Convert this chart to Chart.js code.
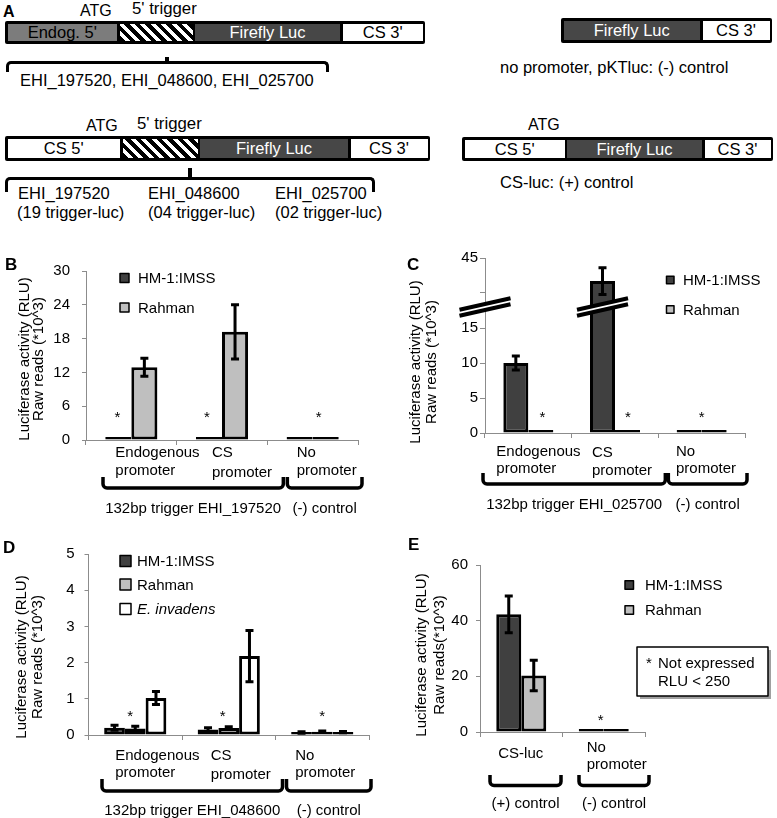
<!DOCTYPE html>
<html>
<head>
<meta charset="utf-8">
<script src="https://cdn.jsdelivr.net/npm/chart.js@4.4.1/dist/chart.umd.min.js"></script>
<style>
  html, body { margin: 0; padding: 0; background: #fff; }
  #page { position: relative; width: 777px; height: 818px; overflow: hidden;
          font-family: "Liberation Sans", Arial, sans-serif; color: #000; }
  .t { position: absolute; white-space: nowrap; line-height: 1; }
  .construct { position: absolute; background: #000; border-radius: 2px; }
  .seg { position: absolute; top: 3px; bottom: 3px; display: flex; align-items: center;
         justify-content: center; font-size: 16.5px; line-height: 1; white-space: nowrap; }
  .hatch { background: repeating-linear-gradient(45deg, #000 0 3.9px, #fff 3.9px 7.4px); }
  .brace { position: absolute; border: 3.5px solid #000; border-bottom: none;
           border-radius: 5px 5px 0 0; box-sizing: border-box; }
  .tick { position: absolute; background: #000; width: 3.5px; }
  .panel { position: absolute; }
</style>
</head>
<body>
<div id="page">
  <div class="panel" style="left:0;top:250px"><canvas id="chartB" width="390" height="270"></canvas></div>
  <div class="panel" style="left:390px;top:245px"><canvas id="chartC" width="387" height="270"></canvas></div>
  <div class="panel" style="left:0;top:535px"><canvas id="chartD" width="390" height="283"></canvas></div>
  <div class="panel" style="left:390px;top:525px"><canvas id="chartE" width="387" height="293"></canvas></div>
</div>
<script>
// ---- data (RLU x10^3) ----
const categoriesB = [['Endogenous', 'promoter'], ['CS', 'promoter'], ['No', 'promoter']];
const hm1B = [0.2, 0.3, 0.15];
const hm1ErrB = [0, 0, 0];
const rahmanB = [12.9, 19.2, 0.15];
const rahmanErrB = [1.6, 4.8, 0];
const groupsB = ['132bp trigger EHI_197520', '(-) control'];

const categoriesC = [['Endogenous', 'promoter'], ['CS', 'promoter'], ['No', 'promoter']];
const hm1C = [10.0, 41.7, 0.1];
const hm1ErrC = [1.0, 1.9, 0];
const rahmanC = [0.05, 0.3, 0.1];
const rahmanErrC = [0, 0, 0];
const groupsC = ['132bp trigger EHI_025700', '(-) control'];

const categoriesD = [['Endogenous', 'promoter'], ['CS', 'promoter'], ['No', 'promoter']];
const hm1D = [0.20, 0.15, 0.07];
const hm1ErrD = [0.07, 0.05, 0.02];
const rahmanD = [0.18, 0.19, 0.09];
const rahmanErrD = [0.06, 0.04, 0.02];
const invadensD = [1.02, 2.18, 0.08];
const invadensErrD = [0.18, 0.71, 0.02];
const groupsD = ['132bp trigger EHI_048600', '(-) control'];

const categoriesE = [['CS-luc'], ['No', 'promoter']];
const hm1E = [42.3, 0.2];
const hm1ErrE = [6.6, 0];
const rahmanE = [20.3, 0.2];
const rahmanErrE = [5.5, 0];
const groupsE = ['(+) control', '(-) control'];

const yTitle = ['Luciferase activity (RLU)', 'Raw reads (*10^3)'];
const yTitleE = ['Luciferase activity (RLU)', 'Raw reads(*10^3)'];
const noteLines = ['Not expressed', 'RLU < 250'];

// ---- styles ----
const FONT = '"Liberation Sans", Arial, sans-serif';
const AXIS = '#8c8c8c';
const HM_COLOR = '#404040';
const RAHMAN_COLOR = '#bfbfbf';
const INV_COLOR = '#ffffff';

// ---- panel A : constructs drawn as plain html ----
const page = document.getElementById('page');

function addText(txt, x, base, size, extra) {
  const d = document.createElement('div');
  d.className = 't';
  d.textContent = txt;
  d.style.left = x + 'px';
  d.style.top = (base - 0.8465 * size) + 'px';
  d.style.fontSize = size + 'px';
  if (extra) Object.assign(d.style, extra);
  page.appendChild(d);
}

function addConstruct(x0, y0, x1, y1, segs) {
  const c = document.createElement('div');
  c.className = 'construct';
  Object.assign(c.style, {left: x0 + 'px', top: y0 + 'px', width: (x1 - x0) + 'px', height: (y1 - y0) + 'px'});
  segs.forEach(s => {
    const d = document.createElement('div');
    d.className = 'seg' + (s.hatch ? ' hatch' : '');
    d.style.left = (s.from - x0) + 'px';
    d.style.width = (s.to - s.from) + 'px';
    if (s.fill) d.style.background = s.fill;
    if (s.color) d.style.color = s.color;
    if (s.text) d.textContent = s.text;
    c.appendChild(d);
  });
  page.appendChild(c);
}

function addBrace(x0, x1, yLine, yEnd, xt, yt) {
  const b = document.createElement('div');
  b.className = 'brace';
  Object.assign(b.style, {left: (x0 - 1.75) + 'px', top: (yLine - 1.75) + 'px',
    width: (x1 - x0 + 3.5) + 'px', height: (yEnd - yLine + 1.75) + 'px'});
  page.appendChild(b);
  const t = document.createElement('div');
  t.className = 'tick';
  Object.assign(t.style, {left: (xt - 1.75) + 'px', top: yt + 'px', height: (yLine - yt) + 'px'});
  page.appendChild(t);
}

const LUC = '#474747';
addText('A', 3, 17.5, 16, {fontWeight: 'bold'});
addText('ATG', 80, 16.7, 16);
addText("5' trigger", 132, 15.5, 16.8);
addConstruct(5, 21, 425, 44, [
  {from: 7.5, to: 117, fill: '#7c7c7c', text: "Endog. 5'"},
  {from: 120, to: 193, hatch: true},
  {from: 195, to: 340, fill: LUC, color: '#fff', text: 'Firefly Luc'},
  {from: 343, to: 422.5, fill: '#fff', text: "CS 3'"}
]);
addBrace(8, 327, 62.5, 72, 167, 57);
addText('EHI_197520, EHI_048600, EHI_025700', 20, 85.7, 16.5);

addConstruct(561, 18, 772, 43, [
  {from: 563.5, to: 700, fill: LUC, color: '#fff', text: 'Firefly Luc'},
  {from: 702.5, to: 769.5, fill: '#fff', text: "CS 3'"}
]);
addText('no promoter, pKTluc: (-) control', 500, 73, 16.5);

addText('ATG', 86, 131.7, 16);
addText("5' trigger", 137, 130, 16.8);
addConstruct(5, 136, 430, 161, [
  {from: 7.5, to: 120, fill: '#fff', text: "CS 5'"},
  {from: 122.5, to: 198, hatch: true},
  {from: 200, to: 348, fill: LUC, color: '#fff', text: 'Firefly Luc'},
  {from: 350.5, to: 427.5, fill: '#fff', text: "CS 3'"}
]);
addBrace(7, 373, 179, 192, 190, 168);
addText('EHI_197520', 18, 199.3, 16.5);
addText('(19 trigger-luc)', 17, 218, 16.5);
addText('EHI_048600', 148, 199.3, 16.5);
addText('(04 trigger-luc)', 148, 218, 16.5);
addText('EHI_025700', 275, 199.3, 16.5);
addText('(02 trigger-luc)', 275, 218, 16.5);

addText('ATG', 528, 130.7, 16);
addConstruct(462, 137, 773, 161, [
  {from: 464.5, to: 565, fill: '#fff', text: "CS 5'"},
  {from: 567, to: 702, fill: LUC, color: '#fff', text: 'Firefly Luc'},
  {from: 704.5, to: 770.5, fill: '#fff', text: "CS 3'"}
]);
addText('CS-luc: (+) control', 500, 188.3, 16.5);

// ---- bar charts ----
function drawBreak(ctx, x, y) {
  const dx = 25.5, dy = 5.8, g = 3;
  ctx.save();
  ctx.fillStyle = '#fff';
  ctx.beginPath();
  ctx.moveTo(x - dx, y + dy - g);
  ctx.lineTo(x + dx, y - dy - g);
  ctx.lineTo(x + dx, y - dy + g);
  ctx.lineTo(x - dx, y + dy + g);
  ctx.closePath();
  ctx.fill();
  ctx.strokeStyle = '#000';
  ctx.lineWidth = 4;
  [-g, g].forEach(o => {
    ctx.beginPath();
    ctx.moveTo(x - dx, y + dy + o);
    ctx.lineTo(x + dx, y - dy + o);
    ctx.stroke();
  });
  ctx.restore();
}

function decor(p) {
  const map = p.map || (v => v);
  const px = x => x - p.at[0];
  const py = y => y - p.at[1];
  return {
    id: 'decor',
    afterDatasetsDraw(chart) {
      const ctx = chart.ctx, ys = chart.scales.y;
      ctx.save();
      ctx.strokeStyle = '#000';
      ctx.lineWidth = 3;
      chart.data.datasets.forEach((ds, di) => {
        chart.getDatasetMeta(di).data.forEach((bar, i) => {
          const e = ds.errors[i];
          if (!e) return;
          const v = ds.raw[i];
          const yt = ys.getPixelForValue(map(v + e));
          const yb = ys.getPixelForValue(map(Math.max(v - e, 0)));
          ctx.beginPath();
          ctx.moveTo(bar.x, yt); ctx.lineTo(bar.x, yb);
          ctx.moveTo(bar.x - 4, yt); ctx.lineTo(bar.x + 4, yt);
          ctx.moveTo(bar.x - 4, yb); ctx.lineTo(bar.x + 4, yb);
          ctx.stroke();
        });
      });
      ctx.restore();
    },
    afterDraw(chart) {
      const ctx = chart.ctx, xs = chart.scales.x, ys = chart.scales.y;
      const area = chart.chartArea, axisY = area.bottom;
      const n = chart.data.labels.length, cw = xs.width / n;
      const cx = i => xs.getPixelForValue(i);
      ctx.save();
      ctx.fillStyle = '#000';
      ctx.strokeStyle = '#000';
      ctx.textBaseline = 'alphabetic';

      if (p.breakAt !== undefined) {
        const yb = ys.getPixelForValue(p.breakAt);
        drawBreak(ctx, area.left, yb);
        p.breakBars.forEach(([d, i]) => drawBreak(ctx, chart.getDatasetMeta(d).data[i].x, yb));
      }

      // panel letter
      ctx.font = 'bold 17px ' + FONT;
      ctx.textAlign = 'left';
      ctx.fillText(p.letter.text, px(p.letter.x), py(p.letter.y));

      // y title
      ctx.font = '15px ' + FONT;
      ctx.textAlign = 'center';
      ctx.textBaseline = 'middle';
      p.title.lines.forEach((line, k) => {
        ctx.save();
        ctx.translate(px(p.title.x) + k * p.title.pitch, py(p.title.y));
        ctx.rotate(-Math.PI / 2);
        ctx.fillText(line, 0, 0);
        ctx.restore();
      });
      ctx.textBaseline = 'alphabetic';

      // category labels under the axis
      ctx.textAlign = 'left';
      chart.data.labels.forEach((lines, i) => {
        lines.forEach((line, k) => ctx.fillText(line, cx(i) + p.catDx[i], axisY + p.catDy[i][k]));
      });

      // asterisks
      ctx.textAlign = 'center';
      p.stars.forEach(([i, dx]) => ctx.fillText('*', cx(i) + dx, axisY + p.starDy));

      // braces and group labels
      ctx.lineWidth = 3.5;
      ctx.lineJoin = 'round';
      p.braces.forEach(([a, b, l, r], k) => {
        const x0 = cx(a) - cw / 2 + l, x1 = cx(b) + cw / 2 + r;
        const yl = axisY + p.braceLine, yt = axisY + p.braceTop, rad = 4;
        ctx.beginPath();
        ctx.moveTo(x0, yt);
        ctx.lineTo(x0, yl - rad);
        ctx.arcTo(x0, yl, x0 + rad, yl, rad);
        ctx.lineTo(x1 - rad, yl);
        ctx.arcTo(x1, yl, x1, yl - rad, rad);
        ctx.lineTo(x1, yt);
        ctx.stroke();
        ctx.fillText(p.groups[k], (x0 + x1) / 2, axisY + p.groupDy);
      });

      // legend
      const lg = p.legend;
      ctx.textAlign = 'left';
      ctx.lineWidth = 1.5;
      chart.data.datasets.forEach((ds, k) => {
        const yc = py(lg.ys[k]);
        ctx.fillStyle = ds.backgroundColor;
        ctx.fillRect(px(lg.x), yc - lg.size / 2, lg.size, lg.size);
        ctx.strokeRect(px(lg.x), yc - lg.size / 2, lg.size, lg.size);
        ctx.fillStyle = '#000';
        ctx.font = (ds.italic ? 'italic ' : '') + '15px ' + FONT;
        ctx.fillText(ds.label, px(lg.textX), yc + 5);
      });

      // note box
      if (p.note) {
        const [x0, y0, x1, y1] = p.note.box;
        ctx.fillStyle = '#a0a0a0';
        ctx.fillRect(px(x0) + 3, py(y0) + 3, x1 - x0, y1 - y0);
        ctx.fillStyle = '#fff';
        ctx.fillRect(px(x0), py(y0), x1 - x0, y1 - y0);
        ctx.strokeRect(px(x0), py(y0), x1 - x0, y1 - y0);
        ctx.fillStyle = '#000';
        ctx.font = '15px ' + FONT;
        ctx.fillText('*', px(x0) + 9, py(y0) + 21);
        p.note.lines.forEach((line, k) => ctx.fillText(line, px(x0) + 21, py(y0) + 21 + k * 18));
      }
      ctx.restore();
    }
  };
}

function makeChart(p) {
  const map = p.map || (v => v);
  const datasets = p.series.map(s => ({
    label: s.label,
    data: s.values.map(map),
    raw: s.values,
    errors: s.errors,
    italic: s.italic,
    backgroundColor: s.color,
    borderColor: '#000',
    borderWidth: 3,
    borderSkipped: false,
    minBarLength: 3,
    categoryPercentage: p.catPct,
    barPercentage: 1
  }));
  return new Chart(document.getElementById(p.id), {
    type: 'bar',
    data: {labels: p.categories, datasets},
    options: {
      responsive: false,
      animation: false,
      events: [],
      layout: {padding: p.padding},
      plugins: {legend: {display: false}, tooltip: {enabled: false}},
      scales: {
        x: {
          grid: {offset: true, drawOnChartArea: false, color: AXIS, tickLength: 5},
          border: {color: AXIS},
          ticks: {display: false},
          afterFit: s => { s.height = p.xHeight; }
        },
        y: {
          min: 0,
          max: p.yMax,
          ticks: {stepSize: p.yStep, padding: p.tickPad, color: '#000',
                  font: {family: FONT, size: 15}, callback: p.tickText || (v => v)},
          grid: {drawOnChartArea: false, color: AXIS, tickLength: p.tickLen},
          border: {color: AXIS},
          afterFit: s => { s.width = p.yWidth; }
        }
      }
    },
    plugins: [decor(p)]
  });
}

makeChart({
  id: 'chartB', at: [0, 250],
  padding: {left: 0, top: 15, right: 32, bottom: 0}, yWidth: 86, xHeight: 80,
  catPct: 0.575, yMax: 30, yStep: 6, tickLen: 4, tickPad: 12,
  categories: categoriesB,
  series: [
    {label: 'HM-1:IMSS', values: hm1B, errors: hm1ErrB, color: HM_COLOR},
    {label: 'Rahman', values: rahmanB, errors: rahmanErrB, color: RAHMAN_COLOR}
  ],
  letter: {text: 'B', x: 5, y: 270},
  title: {x: 24.5, y: 359, pitch: 14, lines: yTitle},
  catDx: [-16, -10, -16], catDy: [[17, 35], [17, 37], [17, 35]],
  stars: [[0, -14], [1, -15], [2, 6]], starDy: -18.4,
  groups: groupsB, braces: [[0, 1, 17, 16], [2, 2, 20, 4]], braceTop: 37, braceLine: 48, groupDy: 73,
  legend: {x: 120, ys: [278, 307.5], size: 9, textX: 138}
});

makeChart({
  id: 'chartC', at: [390, 245],
  padding: {left: 0, top: 13, right: 32, bottom: 0}, yWidth: 95, xHeight: 82,
  catPct: 0.577, yMax: 25, yStep: 5, tickLen: 5, tickPad: 2,
  // broken axis: values above 30 are drawn 20 lower, top tick reads 45
  map: v => (v > 30 ? v - 20 : v),
  tickText: v => (v === 25 ? '45' : v === 20 ? '' : v),
  breakAt: 18, breakBars: [[0, 1]],
  categories: categoriesC,
  series: [
    {label: 'HM-1:IMSS', values: hm1C, errors: hm1ErrC, color: HM_COLOR},
    {label: 'Rahman', values: rahmanC, errors: rahmanErrC, color: RAHMAN_COLOR}
  ],
  letter: {text: 'C', x: 407, y: 270},
  title: {x: 415.7, y: 362, pitch: 16.6, lines: yTitle},
  catDx: [-32, -23, -25.7], catDy: [[23, 40], [23.7, 42], [23, 40]],
  stars: [[0, 14], [1, 13], [2, 0]], starDy: -11,
  groups: groupsC, braces: [[0, 1, -2, 7], [2, 2, 10, 2]], braceTop: 40, braceLine: 51, groupDy: 76,
  legend: {x: 666.5, ys: [280, 309.5], size: 7.5, textX: 683}
});

makeChart({
  id: 'chartD', at: [0, 535],
  padding: {left: 0, top: 12, right: 21, bottom: 0}, yWidth: 88.5, xHeight: 83,
  catPct: 0.665, yMax: 5, yStep: 1, tickLen: 4, tickPad: 10,
  categories: categoriesD,
  series: [
    {label: 'HM-1:IMSS', values: hm1D, errors: hm1ErrD, color: HM_COLOR},
    {label: 'Rahman', values: rahmanD, errors: rahmanErrD, color: RAHMAN_COLOR},
    {label: 'E. invadens', values: invadensD, errors: invadensErrD, color: INV_COLOR, italic: true}
  ],
  letter: {text: 'D', x: 3, y: 553},
  title: {x: 21.5, y: 657, pitch: 16, lines: yTitle},
  catDx: [-20, -18, -27], catDy: [[25, 42], [25, 44], [25, 42]],
  stars: [[0, -5], [1, -6], [2, 0]], starDy: -14.4,
  groups: groupsD, braces: [[0, 1, 13.5, 7], [2, 2, 11, 2]], braceTop: 44, braceLine: 56, groupDy: 80,
  legend: {x: 120, ys: [561, 584.5, 609], size: 11, textX: 137}
});

makeChart({
  id: 'chartE', at: [390, 525],
  padding: {left: 0, top: 40, right: 132, bottom: 0}, yWidth: 90, xHeight: 86,
  catPct: 0.606, yMax: 60, yStep: 20, tickLen: 4, tickPad: 8,
  categories: categoriesE,
  series: [
    {label: 'HM-1:IMSS', values: hm1E, errors: hm1ErrE, color: HM_COLOR},
    {label: 'Rahman', values: rahmanE, errors: rahmanErrE, color: RAHMAN_COLOR}
  ],
  letter: {text: 'E', x: 408, y: 550},
  title: {x: 421.7, y: 655, pitch: 18, lines: yTitleE},
  catDx: [-23, -17], catDy: [[26], [20, 37]],
  stars: [[1, -3]], starDy: -7.4,
  groups: groupsE, braces: [[0, 0, 10, -1.5], [1, 1, 16.5, 4]], braceTop: 43, braceLine: 53.5, groupDy: 76,
  legend: {x: 625, ys: [585, 610], size: 8.5, textX: 645},
  note: {box: [637, 647, 768, 696], lines: noteLines}
});
</script>
</body>
</html>
